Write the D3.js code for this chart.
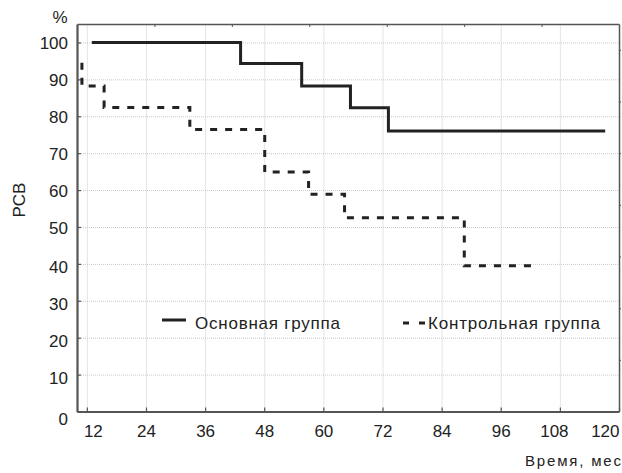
<!DOCTYPE html>
<html>
<head>
<meta charset="utf-8">
<script src="https://cdn.jsdelivr.net/npm/d3@7"></script>
<style>
  html, body { margin: 0; padding: 0; background: #fff; }
  svg { display: block; font-family: Arial, "Liberation Sans", sans-serif; }
</style>
</head>
<body>
<svg id="chart" width="622" height="473"></svg>
<script>
// ---- data ----
const xTickValues = [12, 24, 36, 48, 60, 72, 84, 96, 108, 120];
const yTickValues = [0, 10, 20, 30, 40, 50, 60, 70, 80, 90, 100];
const seriesNames = ["Основная группа", "Контрольная группа"];
const mainTimes  = [13, 43.2, 55.6, 65.5, 73.2, 117.2];
const mainValues = [100, 94.3, 88.2, 82.3, 76, 76];
const ctrlTimes  = [11, 11, 15.5, 32.9, 48.1, 57, 64.3, 88.6, 103.3];
const ctrlValues = [94.5, 88.2, 82.4, 76.4, 64.9, 58.9, 52.5, 39.5, 39.5];
const yAxisLabel = "РСВ";
const yUnitLabel = "%";
const xAxisLabel = "Время, мес";

// ---- layout ----
const svg = d3.select("#chart");
const L = 77, R = 619, T = 24, B = 411.5;
const x = d3.scaleLinear().domain([10, 120]).range([L, R]);
const y = d3.scaleLinear().domain([0, 105]).range([B, T]);
const textColor = "#222";
const tickFont = 17;

// grid
const grid = svg.append("g");
grid.append("g").attr("transform", `translate(0,${B})`)
  .call(d3.axisBottom(x).tickValues(xTickValues).tickSize(-(B - T)).tickFormat(""))
  .call(g => g.select(".domain").remove())
  .call(g => g.selectAll("line").attr("stroke", "#c9c9c9").attr("stroke-dasharray", "1,1"));
grid.append("g").attr("transform", `translate(${L},0)`)
  .call(d3.axisLeft(y).tickValues(yTickValues.filter(v => v > 0)).tickSize(-(R - L)).tickFormat(""))
  .call(g => g.select(".domain").remove())
  .call(g => g.selectAll("line").attr("stroke", "#c9c9c9").attr("stroke-dasharray", "1,1"));

// top & right frame
svg.append("g").attr("transform", `translate(0,${T})`)
  .call(d3.axisTop(x).tickValues(d3.range(1, 7).map(k => 10 + k * 110 / 7)).tickSize(-3).tickSizeOuter(0).tickFormat(""))
  .call(g => g.select(".domain").attr("stroke", "#555").attr("stroke-width", 1.5))
  .call(g => g.selectAll("line").attr("stroke", "#555"));
svg.append("g").attr("transform", `translate(${R},0)`)
  .call(d3.axisRight(y).tickValues(d3.range(1, 8).map(k => k * 14)).tickSize(2).tickSizeOuter(0).tickFormat(""))
  .call(g => g.select(".domain").attr("stroke", "#555").attr("stroke-width", 1.5))
  .call(g => g.selectAll("line").attr("stroke", "#555"));

// bottom axis
svg.append("g").attr("transform", `translate(0,${B})`)
  .call(d3.axisBottom(x).tickValues(xTickValues).tickSize(-4).tickSizeOuter(0).tickPadding(13))
  .call(g => g.select(".domain").attr("stroke", "#555").attr("stroke-width", 2.2))
  .call(g => g.selectAll("line").attr("stroke", "#555").attr("stroke-width", 1.2))
  .call(g => g.selectAll("text").attr("font-size", tickFont).attr("fill", textColor)
      .attr("font-family", "Arial, 'Liberation Sans', sans-serif")
      .attr("text-anchor", d => d === 120 ? "end" : "middle")
      .attr("dx", d => d === 12 ? 6 : (d === 108 ? -6 : 0)));

// left axis
svg.append("g").attr("transform", `translate(${L},0)`)
  .call(d3.axisLeft(y).tickValues(yTickValues).tickSize(-4).tickSizeOuter(0).tickPadding(9))
  .call(g => g.select(".domain").attr("stroke", "#555").attr("stroke-width", 2.2))
  .call(g => g.selectAll("line").attr("stroke", "#555").attr("stroke-width", 1.2))
  .call(g => g.selectAll("text").attr("font-size", tickFont).attr("fill", textColor)
      .attr("font-family", "Arial, 'Liberation Sans', sans-serif")
      .attr("dy", d => d === 0 ? "0.75em" : (d <= 40 ? "0.5em" : "0.38em")));

// series
const line = d3.line().x(d => x(d[0])).y(d => y(d[1])).curve(d3.curveStepAfter);
const mainData = mainTimes.map((t, i) => [t, mainValues[i]]);
const ctrlData = ctrlTimes.map((t, i) => [t, ctrlValues[i]]);
svg.append("path").datum(mainData).attr("d", line)
  .attr("fill", "none").attr("stroke", "#222").attr("stroke-width", 3);
svg.append("path").datum(ctrlData).attr("d", line)
  .attr("fill", "none").attr("stroke", "#222").attr("stroke-width", 3)
  .attr("stroke-dasharray", "7,8");

// legend
const lg = svg.append("g").attr("font-size", 17).attr("fill", textColor);
lg.append("line").attr("x1", 162).attr("x2", 186).attr("y1", 320).attr("y2", 320)
  .attr("stroke", "#222").attr("stroke-width", 3);
lg.append("text").attr("x", 195).attr("y", 329).attr("textLength", 145).text(seriesNames[0]);
lg.append("line").attr("x1", 403).attr("x2", 427).attr("y1", 323).attr("y2", 323)
  .attr("stroke", "#222").attr("stroke-width", 3).attr("stroke-dasharray", "6,10");
lg.append("text").attr("x", 428).attr("y", 329).attr("textLength", 172).text(seriesNames[1]);

// axis titles
svg.append("text").attr("x", 60).attr("y", 23).attr("text-anchor", "middle")
  .attr("font-size", 17).attr("fill", textColor).text(yUnitLabel);
svg.append("text").attr("transform", "translate(25,200) rotate(-90)")
  .attr("text-anchor", "middle").attr("font-size", 17).attr("fill", textColor).text(yAxisLabel);
svg.append("text").attr("x", 621).attr("y", 466).attr("text-anchor", "end")
  .attr("font-size", 15).attr("textLength", 96).attr("fill", textColor).text(xAxisLabel);
</script>
</body>
</html>
